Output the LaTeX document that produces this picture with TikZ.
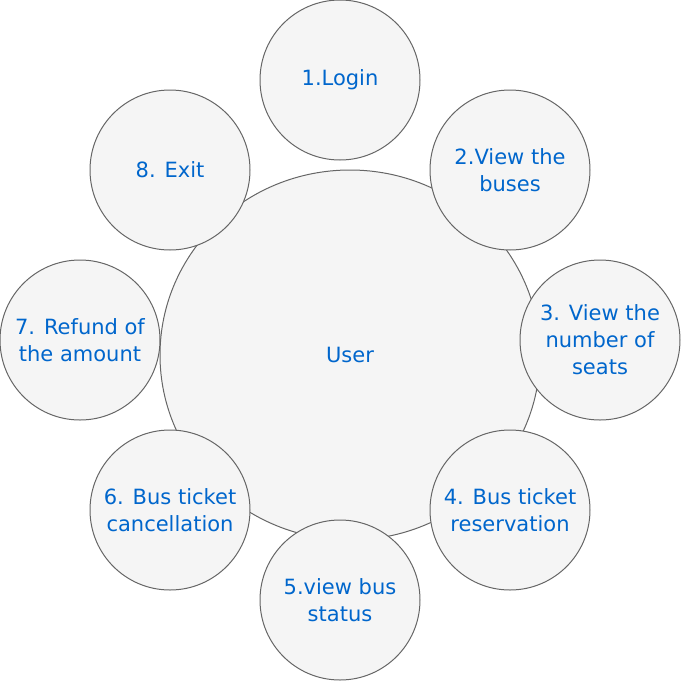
\documentclass[tikz,border=0pt]{standalone}
\usepackage{fontspec}
\usetikzlibrary{shapes.geometric}
\setmainfont{DejaVu Sans}
\definecolor{txt}{HTML}{0066CC}
\definecolor{fillc}{HTML}{F5F5F5}
\definecolor{strokec}{HTML}{666666}
\begin{document}
\begin{tikzpicture}[x=1pt,y=-1pt,
  bubble/.style={circle,draw=strokec,fill=fillc,line width=1pt,minimum size=160pt,inner sep=0pt,
    text=txt,align=center,font=\fontsize{21}{27}\selectfont},
  hub/.style={ellipse,draw=strokec,fill=fillc,line width=1pt,minimum width=380pt,minimum height=370pt,inner sep=0pt,
    text=txt,font=\fontsize{21}{27}\selectfont}]
\useasboundingbox (0,0) rectangle (681,681);
\node[hub] (user) at (350,355) {User};
\node[bubble] (n1) at (340,80) {1.Login};
\node[bubble] (n2) at (510,170) {2.View the\\buses};
\node[bubble] (n3) at (600,340) {3. View the\\number of\\seats};
\node[bubble] (n4) at (510,510) {4. Bus ticket\\reservation};
\node[bubble] (n5) at (340,600) {5.view bus\\status};
\node[bubble] (n6) at (170,510) {6. Bus ticket\\cancellation};
\node[bubble] (n7) at (80,340) {7. Refund of\\the amount};
\node[bubble] (n8) at (170,170) {8. Exit};
\end{tikzpicture}
\end{document}
